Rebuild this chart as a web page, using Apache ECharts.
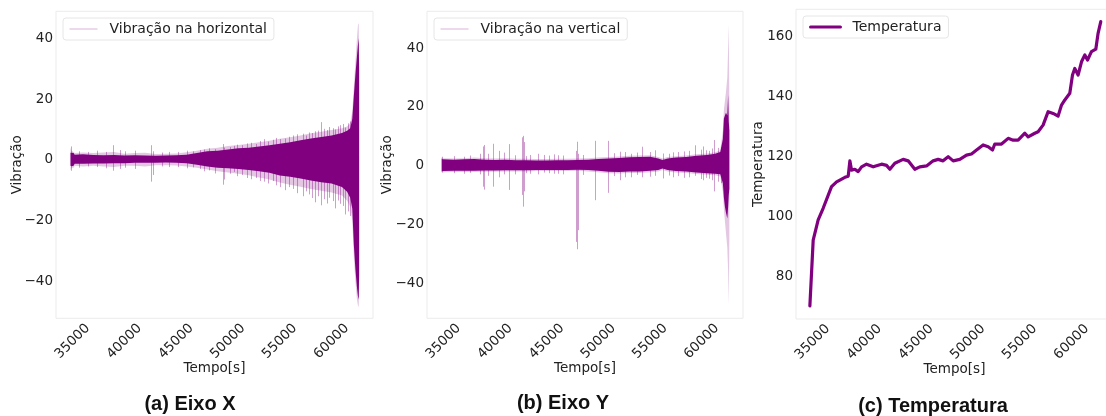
<!DOCTYPE html>
<html>
<head>
<meta charset="utf-8">
<script src="https://cdn.jsdelivr.net/npm/echarts@6/dist/echarts.min.js"></script>
<style>
  html, body { margin: 0; padding: 0; background: #fff; }
  #chart { width: 1106px; height: 416px; }
</style>
</head>
<body>
<div id="chart"></div>
<script>
// (a) vibração na horizontal: envelope do núcleo denso, franja clara e picos isolados
const hTime   = [34800, 34900, 35100, 35200, 36000, 37000, 38000, 39000, 40000, 41000, 42000, 43000, 44000, 45000, 46000, 47000, 48000, 49000, 50000, 51000, 52000, 53000, 54000, 55000, 56000, 57000, 58000, 59000, 60000, 61000, 61500, 61800, 62000, 62150, 62300, 62450, 62550, 62620, 62660];
const hCoreHi = [2.3, 2.3, 2.2, 1.7, 1.8, 1.6, 1.5, 1.6, 1.4, 1.5, 1.4, 1.3, 1.4, 1.5, 1.7, 2.2, 2.8, 3.0, 3.4, 3.8, 4.0, 4.4, 4.8, 5.3, 5.8, 6.4, 7.0, 7.5, 8.0, 8.8, 9.6, 10.4, 13.5, 21, 28, 34, 38, 40, 30];
const hCoreLo = [-2.0, -2.1, -2.0, -1.3, -1.3, -1.2, -1.2, -1.1, -1.1, -1.0, -1.0, -1.0, -0.9, -1.0, -1.1, -1.6, -2.2, -2.6, -2.8, -3.0, -3.4, -3.8, -4.3, -5.2, -5.6, -6.2, -6.8, -7.4, -7.8, -9.0, -10.5, -12.5, -16, -28, -36, -42, -45, -46, -38];
const hFuzzHi = [4.0, 3.0, 2.6, 2.2, 2.4, 2.2, 2.4, 2.6, 2.0, 2.2, 2.3, 1.9, 2.0, 2.1, 2.5, 3.0, 3.6, 4.0, 4.5, 4.9, 5.3, 5.8, 6.3, 6.9, 7.4, 8.0, 8.7, 9.2, 9.8, 10.4, 11.0, 12.0, 16, 24, 32, 40, 44.5, 45, 32];
const hFuzzLo = [-3.5, -2.6, -2.6, -2.0, -2.2, -2.0, -2.2, -2.4, -2.0, -2.0, -2.2, -1.8, -1.8, -1.9, -2.2, -2.6, -3.2, -3.8, -4.2, -4.6, -5.1, -5.8, -6.5, -7.5, -8.2, -8.9, -9.6, -10.2, -10.8, -11.8, -13.5, -15.5, -20, -32, -40, -46, -48, -48.5, -42];
const hSpikeT  = [34820, 35600, 36500, 37400, 38200, 38950, 39600, 40100, 41050, 42600, 42750, 43600, 44300, 45200, 46000, 46600, 47300, 47700, 48200, 48700, 49500, 49650, 50200, 50600, 50900, 51400, 51800, 52200, 52700, 53100, 53500, 53900, 54300, 54600, 55000, 55500, 55900, 56300, 56700, 57200, 57500, 57800, 58100, 58400, 58700, 59000, 59300, 59600, 59800, 60100, 60300, 60600, 60800, 61100, 61300, 61600, 61800];
const hSpikeHi = [4.4, 2.8, 2.6, 3.0, 2.6, 4.8, 3.2, 2.8, 3.0, 4.8, 2.8, 2.4, 2.6, 2.6, 3.0, 2.8, 3.2, 3.4, 3.8, 3.5, 5.2, 4.0, 4.2, 4.6, 5.0, 4.8, 5.4, 5.6, 5.2, 6.2, 6.8, 6.0, 6.6, 7.2, 6.8, 7.0, 7.6, 8.0, 8.4, 8.6, 8.0, 9.0, 8.8, 9.4, 9.6, 12.4, 10.2, 9.8, 10.8, 10.4, 10.0, 11.0, 11.4, 11.8, 10.6, 12.0, 12.6];
const hSpikeLo = [-3.6, -2.6, -2.2, -2.4, -2.8, -3.6, -3.0, -2.6, -3.0, -7.2, -5.0, -2.2, -2.4, -2.4, -2.8, -2.5, -3.0, -3.8, -3.5, -4.5, -8.2, -6.5, -4.6, -4.0, -5.4, -5.0, -6.0, -6.4, -6.0, -7.0, -7.2, -7.8, -7.0, -8.4, -9.0, -10.0, -9.0, -9.6, -11.0, -12.0, -10.4, -11.4, -12.6, -14.0, -12.0, -15.0, -13.0, -14.4, -12.5, -13.6, -16.0, -13.4, -14.5, -15.2, -18.0, -17.0, -18.5];

// (b) vibração na vertical
const vTime   = [34820, 34900, 36000, 37000, 38000, 39000, 40000, 41000, 42000, 43000, 44000, 45000, 46000, 47000, 48000, 49000, 50000, 51000, 52000, 53000, 54000, 55000, 55800, 56200, 56700, 57500, 58500, 59500, 60500, 61300, 61800, 62050, 62150, 62250, 62350, 62480, 62560, 62620, 62680];
const vCoreHi = [2.4, 2.1, 2.0, 2.1, 2.2, 2.0, 1.9, 2.0, 1.8, 1.8, 1.7, 1.7, 1.8, 1.8, 1.9, 2.0, 2.2, 2.4, 2.6, 2.8, 2.9, 3.0, 2.4, 1.9, 2.4, 2.7, 2.9, 3.3, 3.6, 4.0, 4.6, 9, 16, 17, 18, 17, 24, 15, 12];
const vCoreLo = [-2.0, -1.9, -1.8, -1.8, -1.8, -1.7, -1.7, -1.6, -1.6, -1.6, -1.5, -1.5, -1.5, -1.5, -1.4, -1.5, -1.8, -2.1, -2.2, -2.0, -2.0, -1.8, -1.5, -1.0, -1.5, -1.9, -2.0, -2.4, -2.6, -2.8, -3.0, -6, -11, -14, -16, -18, -14, -10, -8];
const vFuzzHi = [2.9, 2.5, 2.4, 2.5, 2.7, 2.5, 2.4, 2.5, 2.3, 2.3, 2.2, 2.2, 2.3, 2.3, 2.4, 2.5, 2.7, 2.9, 3.1, 3.3, 3.4, 3.5, 2.9, 2.4, 2.9, 3.2, 3.4, 3.8, 4.1, 4.5, 5.2, 12, 19, 22, 25, 30, 40, 48, 20];
const vFuzzLo = [-2.4, -2.3, -2.2, -2.2, -2.2, -2.1, -2.1, -2.0, -2.0, -2.0, -1.9, -1.9, -1.9, -1.9, -1.8, -2.0, -2.3, -2.6, -2.7, -2.5, -2.5, -2.3, -2.0, -1.5, -2.0, -2.4, -2.5, -2.9, -3.1, -3.3, -3.7, -9, -15, -19, -23, -28, -36, -47.5, -25];
const vSpikeT  = [34820, 36000, 37000, 37600, 38500, 38850, 38950, 39300, 39760, 40400, 40900, 41370, 41900, 42600, 42670, 42800, 43000, 43400, 44180, 44700, 45200, 45700, 46100, 46600, 47800, 47900, 48000, 48500, 49670, 50900, 51500, 52090, 52600, 53200, 53700, 54190, 55000, 55500, 56220, 56800, 57200, 57700, 58300, 58800, 59350, 59900, 60160, 60400, 60700, 61000, 61220, 61600, 61900];
const vSpikeHi = [3.0, 3.2, 3.0, 3.4, 4.0, 6.5, 7.0, 4.0, 7.4, 5.0, 4.4, 7.3, 3.5, 9.6, 10.1, 8.0, 3.2, 3.6, 4.0, 3.6, 3.4, 3.8, 3.5, 3.4, 5.0, 8.1, 4.0, 3.6, 8.4, 8.4, 4.2, 4.7, 4.6, 4.0, 4.4, 6.4, 4.6, 5.2, 4.1, 4.0, 4.5, 4.6, 4.8, 5.0, 6.9, 5.4, 6.5, 5.2, 5.0, 5.8, 8.7, 6.0, 6.2];
const vSpikeLo = [-2.4, -2.6, -2.8, -2.5, -3.0, -7.2, -8.2, -3.5, -7.2, -4.0, -3.0, -8.3, -3.0, -10.0, -14.0, -8.8, -2.6, -2.8, -3.0, -2.4, -2.6, -2.8, -2.8, -3.0, -26.0, -28.5, -22.0, -3.2, -11.8, -9.3, -3.6, -5.0, -4.0, -4.0, -3.2, -4.0, -3.8, -3.5, -4.4, -3.4, -4.0, -3.6, -4.2, -4.0, -3.5, -4.6, -5.0, -4.2, -4.5, -5.0, -8.8, -5.5, -6.0];

// (c) temperatura
const tempTime  = [34740, 35060, 35540, 36020, 36830, 37320, 38120, 38440, 38600, 38760, 39080, 39400, 39730, 40210, 40850, 41660, 42140, 42460, 42940, 43740, 44230, 44870, 45350, 46000, 46640, 47120, 47600, 48090, 48570, 49210, 49860, 50340, 50830, 51460, 51950, 52370, 52590, 53240, 53880, 54360, 54840, 55490, 55810, 56450, 56770, 57250, 57740, 58220, 58700, 59030, 59350, 59830, 60090, 60310, 60630, 60960, 61280, 61540, 61920, 62340, 62560, 62820];
const tempValue = [70.3, 92.2, 98.9, 102.8, 110, 111.6, 113.1, 113.5, 118.6, 115.5, 115.8, 115, 116.6, 117.5, 116.6, 117.5, 117.1, 115.8, 117.8, 119.1, 118.6, 115.8, 116.6, 116.9, 118.6, 119.1, 118.6, 120, 118.6, 119.1, 120.5, 120.9, 122.2, 123.9, 123.3, 122.2, 124.2, 124.2, 126.1, 125.5, 125.5, 127.8, 126.6, 127.8, 128.3, 130.5, 135, 134.4, 133.5, 137.2, 138.9, 141.1, 147.2, 149.4, 147.2, 151.6, 153.9, 152.2, 155, 155.8, 161.1, 165];

const purple = '#800080';
const lightPurple = 'rgba(128,0,128,0.3)';
const spikePurple = 'rgba(128,0,128,0.38)';
const fuzzPurple = 'rgba(128,0,128,0.22)';
const tickFont = 'DejaVu Sans';

// faixa (envelope) desenhada como um único polígono, pontos pela escala do eixo
function band(idx, ts, his, los, color) {
    return {
        type: 'custom', xAxisIndex: idx, yAxisIndex: idx, silent: true,
        data: ts.map(function (t, i) { return [t, his[i], los[i]]; }),
        encode: { x: 0, y: [1, 2] },
        renderItem: function (params, api) {
            if (params.dataIndex !== 0) return null;
            const pts = [];
            for (let i = 0; i < ts.length; i++) pts.push(api.coord([ts[i], his[i]]));
            for (let i = ts.length - 1; i >= 0; i--) pts.push(api.coord([ts[i], los[i]]));
            return { type: 'polygon', shape: { points: pts }, style: { fill: color } };
        }
    };
}

// picos isolados desenhados como traços verticais
function spikes(idx, ts, his, los) {
    return {
        type: 'custom', xAxisIndex: idx, yAxisIndex: idx, silent: true,
        data: ts.map(function (t, i) { return [t, his[i], los[i]]; }),
        encode: { x: 0, y: [1, 2] },
        renderItem: function (params, api) {
            const a = api.coord([api.value(0), api.value(1)]);
            const b = api.coord([api.value(0), api.value(2)]);
            const x = Math.round(a[0]) + 0.5;
            return {
                type: 'line',
                shape: { x1: x, y1: a[1], x2: x, y2: b[1] },
                style: { stroke: spikePurple, lineWidth: 1 }
            };
        }
    };
}

// série vazia só para a legenda (traço fino claro)
function legendOnly(name, idx) {
    return {
        name: name, type: 'line', xAxisIndex: idx, yAxisIndex: idx, data: [],
        symbol: 'none', itemStyle: { color: lightPurple },
        lineStyle: { color: lightPurple, width: 1 }
    };
}

function xAxis(idx) {
    return {
        type: 'value', gridIndex: idx, min: 33400, max: 64000,
        axisLine: { show: false }, axisTick: { show: false }, splitLine: { show: false },
        axisLabel: {
            rotate: 45, align: 'center', verticalAlign: 'middle', margin: 23,
            fontFamily: tickFont, fontSize: 13.5, color: '#222',
            formatter: function (v) { return v % 5000 === 0 ? String(v) : ''; }
        },
        name: 'Tempo[s]', nameLocation: 'middle', nameGap: 50, nameMoveOverlap: false,
        nameTextStyle: { fontFamily: tickFont, fontSize: 13.5, color: '#222', verticalAlign: 'middle' }
    };
}

function yAxis(idx, min, max, name, gap) {
    return {
        type: 'value', gridIndex: idx, min: min, max: max,
        axisLine: { show: false }, axisTick: { show: false }, splitLine: { show: false },
        axisLabel: {
            margin: 3, fontFamily: tickFont, fontSize: 13.5, color: '#222',
            formatter: function (v) { return v % 20 === 0 ? String(v).replace('-', '\u2212') : ''; }
        },
        name: name, nameLocation: 'middle', nameGap: gap, nameMoveOverlap: false,
        nameTextStyle: { fontFamily: tickFont, fontSize: 13.5, color: '#222', verticalAlign: 'middle' }
    };
}

function legend(left, top, name, lineStyle, itemWidth) {
    return {
        left: left, top: top, orient: 'horizontal',
        data: [{ name: name, lineStyle: lineStyle, itemStyle: { opacity: 0, borderWidth: 0 } }],
        itemWidth: itemWidth, itemHeight: 14,
        padding: [4, 7, 4, 6],
        backgroundColor: '#fff', borderColor: '#e6e6e6', borderWidth: 1, borderRadius: 3,
        textStyle: { fontFamily: tickFont, fontSize: 14, color: '#222', padding: [0, 0, 0, 7] },
        selectedMode: false
    };
}

function title(text, cx, top) {
    return {
        text: text, left: cx, top: top, textAlign: 'center', padding: 0,
        textStyle: { fontFamily: 'Liberation Sans', fontWeight: 'bold', fontSize: 20, color: '#111' }
    };
}

const chart = echarts.init(document.getElementById('chart'), null, { renderer: 'canvas' });

chart.setOption({
    animation: false,
    backgroundColor: '#fff',
    title: [
        title('(a) Eixo X', 190, 394),
        title('(b) Eixo Y', 563, 393),
        title('(c) Temperatura', 933, 396)
    ],
    legend: [
        legend(63, 18, 'Vibração na horizontal', { color: lightPurple, width: 1 }, 28),
        legend(434, 18, 'Vibração na vertical', { color: lightPurple, width: 1 }, 28),
        legend(803, 16, 'Temperatura', { color: purple, width: 3 }, 30)
    ],
    grid: [
        { left: 56, top: 11.3, width: 317, height: 307, show: true, borderColor: '#ebebeb', borderWidth: 1, containLabel: false, outerBoundsMode: 'none' },
        { left: 427, top: 11.3, width: 316, height: 307, show: true, borderColor: '#ebebeb', borderWidth: 1, containLabel: false, outerBoundsMode: 'none' },
        { left: 796, top: 9.3, width: 317, height: 309.7, show: true, borderColor: '#ebebeb', borderWidth: 1, containLabel: false, outerBoundsMode: 'none' }
    ],
    xAxis: [xAxis(0), xAxis(1), xAxis(2)],
    yAxis: [
        yAxis(0, -52.2, 48.9, 'Vibração', 38.5),
        yAxis(1, -52.0, 52.5, 'Vibração', 39.7),
        yAxis(2, 65.9, 169.1, 'Temperatura', 37.7)
    ],
    series: [
        band(0, hTime, hFuzzHi, hFuzzLo, fuzzPurple),
        band(0, hTime, hCoreHi, hCoreLo, purple),
        spikes(0, hSpikeT, hSpikeHi, hSpikeLo),
        legendOnly('Vibração na horizontal', 0),

        band(1, vTime, vFuzzHi, vFuzzLo, fuzzPurple),
        band(1, vTime, vCoreHi, vCoreLo, purple),
        spikes(1, vSpikeT, vSpikeHi, vSpikeLo),
        legendOnly('Vibração na vertical', 1),

        {
            name: 'Temperatura', type: 'line', xAxisIndex: 2, yAxisIndex: 2,
            data: tempTime.map(function (t, i) { return [t, tempValue[i]]; }),
            symbol: 'none', silent: true, itemStyle: { color: purple },
            lineStyle: { color: purple, width: 3.2, join: 'round', cap: 'round' }
        }
    ]
});
</script>
</body>
</html>
